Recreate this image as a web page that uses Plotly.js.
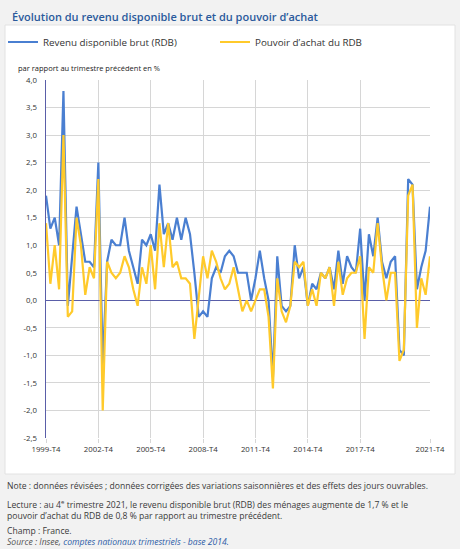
<!DOCTYPE html>
<html><head><meta charset="utf-8">
<script src="https://cdn.plot.ly/plotly-3.0.1.min.js"></script>
<style>html,body{margin:0;padding:0;background:#f2f2f2;} #chart{width:460px;height:549px;}</style>
</head><body><div id="chart"></div>
<script>
// Quarterly categories 1999-T4 .. 2021-T4
const firstYear = 1999, lastYear = 2021;
const quarters = [];
for (let y = firstYear; y <= lastYear; y++) {
  for (let q = 1; q <= 4; q++) {
    if ((y === firstYear && q < 4)) continue;
    quarters.push(y + '-T' + q);
  }
}
const xTickLabels = ['1999-T4','2002-T4','2005-T4','2008-T4','2011-T4','2014-T4','2017-T4','2021-T4'];
const yTickVals = [-2.5,-2,-1.5,-1,-0.5,0,0.5,1,1.5,2,2.5,3,3.5,4];
const yTickText = ['-2,5','-2,0','-1,5','-1,0','-0,5','0,0','0,5','1,0','1,5','2,0','2,5','3,0','3,5','4,0'];

// Revenu disponible brut (RDB), % vs previous quarter
const rdb = [1.9,1.3,1.5,1.0,3.8,-0.1,0.8,1.7,1.2,0.7,0.7,0.6,2.5,-1.2,0.7,1.1,1.0,1.0,1.5,0.9,0.6,0.3,
  1.1,1.0,1.2,0.9,2.1,1.2,1.4,1.1,1.5,1.1,1.5,1.2,0.5,-0.3,-0.2,-0.3,0.4,0.6,0.5,0.8,0.9,0.8,
  0.5,0.5,0.5,0.0,0.4,0.9,0.4,0.0,-1.4,0.8,-0.1,-0.2,-0.1,1.0,0.4,0.6,-0.1,0.3,0.2,0.5,0.4,0.6,
  0.2,0.9,0.3,0.8,0.6,0.5,1.3,0.0,1.2,0.8,1.5,0.7,0.4,0.7,0.8,-0.9,-1.0,2.2,2.1,0.2,0.6,0.9,1.7];
// Pouvoir d'achat du RDB
const pouvoir = [1.4,0.3,1.0,0.2,3.0,-0.3,-0.2,1.5,1.0,0.1,0.6,0.4,2.2,-2.0,0.7,0.5,0.4,0.5,0.8,0.6,0.2,-0.1,
  0.6,0.3,1.0,0.2,1.4,0.6,1.4,0.6,0.7,0.4,0.4,0.3,-0.7,0.0,0.8,0.4,0.9,0.7,0.4,0.2,0.3,0.6,
  0.2,-0.2,0.0,-0.2,0.0,0.2,0.2,-0.3,-1.6,0.4,-0.2,-0.4,-0.1,0.7,0.6,0.7,-0.1,0.2,-0.1,0.5,0.4,0.6,
  -0.1,0.7,0.1,0.4,0.5,0.5,0.8,-0.7,0.6,0.5,1.4,0.6,0.0,0.5,0.5,-1.1,-0.9,1.9,2.1,-0.5,0.4,0.1,0.8];

const seriesNames = ['Revenu disponible brut (RDB)', 'Pouvoir d’achat du RDB'];
const seriesColors = ['#4a7fd1', '#ffca2b'];

// pixel -> paper helpers (plot area: x 46..430, y 80..438)
const PL = 46, PR = 430, PT = 80, PB = 438;
const px = v => (v - PL) / (PR - PL);
const py = v => (PB - v) / (PB - PT);

const FONT = 'Open Sans, Noto Sans, sans-serif';
const textCol = '#3a3a3a';

const traces = [
  {x: quarters, y: rdb, type: 'scatter', mode: 'lines', name: seriesNames[0], legend: 'legend',
   line: {color: seriesColors[0], width: 2.2}},
  {x: quarters, y: pouvoir, type: 'scatter', mode: 'lines', name: seriesNames[1], legend: 'legend2',
   line: {color: seriesColors[1], width: 2.2}}
];

const noteLines = [
  {t: 'Note : données révisées ; données corrigées des variations saisonnières et des effets des jours ouvrables.', y: 486},
  {t: 'Lecture : au 4<sup>e</sup> trimestre 2021, le revenu disponible brut (RDB) des ménages augmente de 1,7 % et le', y: 504},
  {t: 'pouvoir d’achat du RDB de 0,8 % par rapport au trimestre précédent.', y: 516},
  {t: 'Champ : France.', y: 531},
  {t: '<i>Source : Insee, <span style="color:#2f5ea8">comptes nationaux trimestriels - base 2014.</span></i>', y: 542, c: '#555'}
];

const annotations = [
  {text: 'par rapport au trimestre précédent en %', xref: 'paper', yref: 'paper', x: px(16), y: py(68),
   xanchor: 'left', yanchor: 'middle', showarrow: false, font: {family: FONT, size: 7.5, color: '#222'}}
].concat(noteLines.map(n => ({
  text: n.t, xref: 'paper', yref: 'paper', x: px(5), y: py(n.y), xanchor: 'left', yanchor: 'middle',
  showarrow: false, font: {family: FONT, size: 8.6, color: n.c || textCol}
})));

const legendCommon = {orientation: 'h', xanchor: 'left', y: py(42), yanchor: 'middle',
  font: {family: FONT, size: 9.8, color: '#333'}, bgcolor: 'rgba(0,0,0,0)', borderwidth: 0};

const layout = {
  width: 460, height: 549,
  margin: {l: PL, r: 460 - PR, t: PT, b: 549 - PB, pad: 0, autoexpand: false},
  paper_bgcolor: '#f2f2f2', plot_bgcolor: '#ffffff',
  font: {family: FONT, color: textCol},
  title: {text: 'Évolution du revenu disponible brut et du pouvoir d’achat', xref: 'container', yref: 'container',
          x: 12 / 460, xanchor: 'left', y: 1 - 17 / 549, yanchor: 'middle',
          font: {family: FONT, size: 11, color: '#2b5a9c', weight: 600}},
  showlegend: true,
  legend: Object.assign({}, legendCommon, {x: px(3)}),
  legend2: Object.assign({}, legendCommon, {x: px(215)}),
  xaxis: {type: 'category', range: [0, quarters.length - 1], tickvals: xTickLabels, ticktext: xTickLabels,
          showgrid: true, gridcolor: '#d6d6d6', gridwidth: 1, ticks: 'outside', ticklen: 4, tickcolor: '#d6d6d6',
          tickfont: {family: FONT, size: 7.8, color: '#333'}, showline: false, zeroline: false, fixedrange: true},
  yaxis: {range: [-2.5, 4.0], tickvals: yTickVals, ticktext: yTickText, showgrid: true, gridcolor: '#d6d6d6',
          gridwidth: 1, zeroline: true, zerolinecolor: '#5a5ea8', zerolinewidth: 1.5, showline: true,
          linecolor: '#5a5ea8', linewidth: 1.5, ticks: '', ticklabelstandoff: 6,
          tickfont: {family: FONT, size: 7.8, color: '#333'}, fixedrange: true},
  shapes: [
    {type: 'rect', xref: 'paper', yref: 'paper', x0: px(5), x1: px(455), y0: py(474), y1: py(25),
     fillcolor: '#ffffff', line: {color: '#e2e2e2', width: 1}, layer: 'below'}
  ],
  annotations: annotations
};

Plotly.newPlot('chart', traces, layout, {displayModeBar: false, staticPlot: true});
</script></body></html>
